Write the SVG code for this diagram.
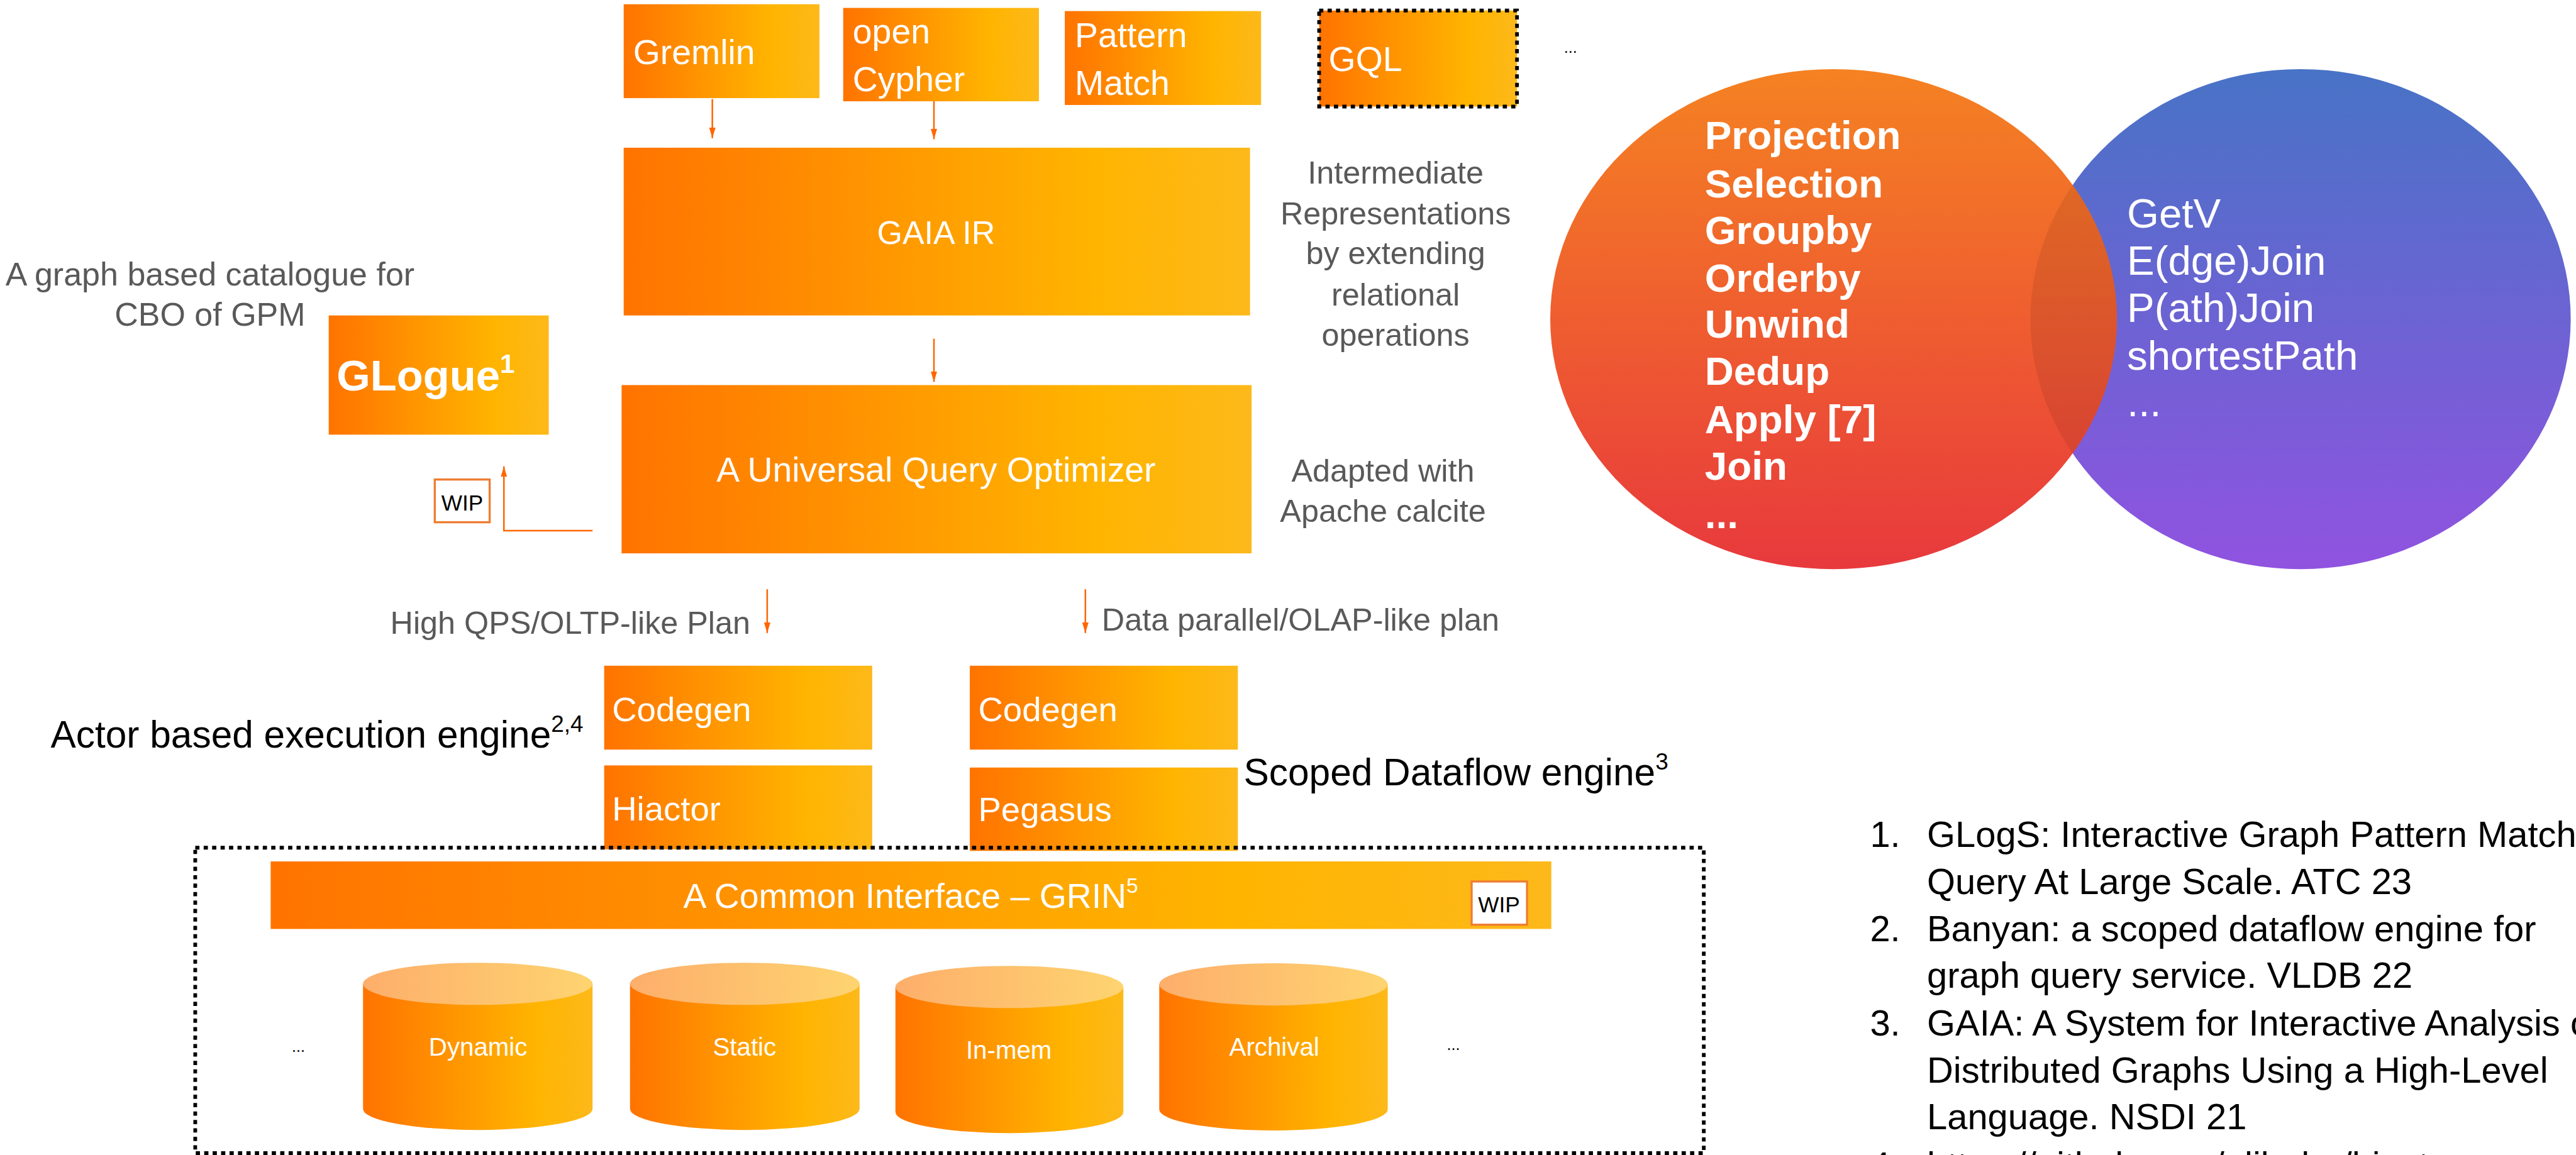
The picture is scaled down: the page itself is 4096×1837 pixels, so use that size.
<svg xmlns="http://www.w3.org/2000/svg" width="4096" height="1837" viewBox="0 0 4096 1837">
<defs>
<linearGradient id="og" x1="0" y1="0" x2="1" y2="0">
<stop offset="0" stop-color="#FF7300"/><stop offset="0.75" stop-color="#FFB400"/><stop offset="1" stop-color="#FDB91A"/>
</linearGradient>
<linearGradient id="ct" x1="0" y1="0" x2="1" y2="0">
<stop offset="0" stop-color="#FDAE6B"/><stop offset="1" stop-color="#FED470"/>
</linearGradient>
<linearGradient id="vl" x1="0" y1="0" x2="0" y2="1">
<stop offset="0" stop-color="#F58222"/><stop offset="1" stop-color="#E8393D"/>
</linearGradient>
<linearGradient id="vr" x1="0" y1="0" x2="0" y2="1">
<stop offset="0" stop-color="#4873C6"/><stop offset="1" stop-color="#9053E0"/>
</linearGradient>
<clipPath id="clipL"><ellipse cx="3475" cy="605" rx="537" ry="474"/></clipPath>
<marker id="ah" viewBox="0 0 20 12" refX="20" refY="6" markerWidth="20" markerHeight="12" markerUnits="userSpaceOnUse" orient="auto">
<path d="M0,0 L20,6 L0,12 Z" fill="#FF6600"/>
</marker>
</defs>
<style>
.box{fill:url(#og)}
.cyl{fill:url(#og)}
.cyt{fill:url(#ct)}
.f{font-family:"Liberation Sans",Arial,sans-serif}
.wt{fill:#ffffff}
.gt{fill:#595959}
.bk{fill:#000000}
.conn{stroke:#FF6600;stroke-width:3;fill:none}
.wip{fill:#ffffff;stroke:#ED7D31;stroke-width:4}
.dash{fill:none;stroke:#000;stroke-width:7;stroke-dasharray:8 8}
</style>
<g transform="scale(0.839)">
<rect x="0" y="0" width="4881" height="2189" fill="#ffffff"/>

<g id="gremlin"><rect class="box" x="1182" y="8" width="371" height="178"/>
<text class="f wt" x="1200" y="122" font-size="66">Gremlin</text></g>
<g id="opencypher"><rect class="box" x="1598" y="15" width="371" height="177"/>
<text class="f wt" x="1616" y="82" font-size="66">open</text>
<text class="f wt" x="1616" y="173" font-size="66">Cypher</text></g>
<g id="patternmatch"><rect class="box" x="2018" y="21" width="372" height="178"/>
<text class="f wt" x="2037" y="89" font-size="66">Pattern</text>
<text class="f wt" x="2037" y="180" font-size="66">Match</text></g>
<g id="gql"><rect class="box" x="2500" y="20" width="375" height="182"/>
<rect class="dash" x="2500" y="20" width="375" height="182"/>
<text class="f wt" x="2518" y="135" font-size="66">GQL</text></g>
<text class="f bk" x="2964" y="100" font-size="30">...</text>

<g id="gaiair"><rect class="box" x="1182" y="280" width="1187" height="318"/>
<text class="f wt" x="1774" y="462" font-size="62" text-anchor="middle">GAIA IR</text></g>
<g id="ir-note"><text class="f gt" font-size="60" text-anchor="middle">
<tspan x="2645" y="348">Intermediate</tspan><tspan x="2645" y="425">Representations</tspan><tspan x="2645" y="501">by extending</tspan><tspan x="2645" y="579">relational</tspan><tspan x="2645" y="655">operations</tspan></text></g>

<g id="optimizer"><rect class="box" x="1178" y="730" width="1194" height="319"/>
<text class="f wt" x="1774" y="913" font-size="66" text-anchor="middle">A Universal Query Optimizer</text></g>
<g id="opt-note"><text class="f gt" font-size="60" text-anchor="middle"><tspan x="2621" y="913">Adapted with</tspan><tspan x="2621" y="989">Apache calcite</tspan></text></g>

<g id="glogue-note"><text class="f gt" font-size="62" text-anchor="middle"><tspan x="398" y="541">A graph based catalogue for</tspan><tspan x="398" y="617">CBO of GPM</tspan></text></g>
<g id="glogue"><rect class="box" x="623" y="598" width="417" height="226"/>
<text class="f wt" x="638" y="740" font-size="82" font-weight="bold">GLogue<tspan font-size="50" dy="-33">1</tspan></text></g>
<g id="wip1"><rect class="wip" x="824" y="909" width="104" height="81"/>
<text class="f bk" x="876" y="968" font-size="42" text-anchor="middle">WIP</text></g>

<text class="f gt" x="1422" y="1202" font-size="60" text-anchor="end">High QPS/OLTP-like Plan</text>
<text class="f gt" x="2088" y="1196" font-size="60">Data parallel/OLAP-like plan</text>

<text class="f bk" x="96" y="1417" font-size="72">Actor based execution engine<tspan font-size="44" dy="-30">2,4</tspan></text>
<text class="f bk" x="2357" y="1489" font-size="72">Scoped Dataflow engine<tspan font-size="44" dy="-30">3</tspan></text>

<g id="codegen1"><rect class="box" x="1145" y="1262" width="508" height="159"/>
<text class="f wt" x="1160" y="1367" font-size="65">Codegen</text></g>
<g id="codegen2"><rect class="box" x="1838" y="1262" width="508" height="159"/>
<text class="f wt" x="1854" y="1367" font-size="65">Codegen</text></g>
<g id="hiactor"><rect class="box" x="1145" y="1451" width="508" height="159"/>
<text class="f wt" x="1160" y="1555" font-size="65">Hiactor</text></g>
<g id="pegasus"><rect class="box" x="1838" y="1455" width="508" height="158"/>
<text class="f wt" x="1854" y="1557" font-size="65">Pegasus</text></g>

<g id="grin"><rect class="box" x="513" y="1633" width="2427" height="128"/>
<text class="f wt" x="1726" y="1721" font-size="66" text-anchor="middle">A Common Interface – GRIN<tspan font-size="40" dy="-28">5</tspan></text>
<rect class="wip" x="2789" y="1671" width="105" height="82"/>
<text class="f bk" x="2841" y="1729" font-size="42" text-anchor="middle">WIP</text></g>

<g id="dynamic"><path class="cyl" d="M688,1865 V2102 A217.5,40 0 0 0 1123,2102 V1865 Z"/><ellipse class="cyt" cx="905.5" cy="1865" rx="217.5" ry="40"/>
<text class="f wt" x="906" y="2001" font-size="48" text-anchor="middle">Dynamic</text></g>
<g id="static"><path class="cyl" d="M1194,1865 V2102 A217.5,40 0 0 0 1629,2102 V1865 Z"/><ellipse class="cyt" cx="1411.5" cy="1865" rx="217.5" ry="40"/>
<text class="f wt" x="1411" y="2001" font-size="48" text-anchor="middle">Static</text></g>
<g id="inmem"><path class="cyl" d="M1697,1871 V2108 A216,40 0 0 0 2129,2108 V1871 Z"/><ellipse class="cyt" cx="1913" cy="1871" rx="216" ry="40"/>
<text class="f wt" x="1912" y="2007" font-size="48" text-anchor="middle">In-mem</text></g>
<g id="archival"><path class="cyl" d="M2197,1866 V2103 A216.5,40 0 0 0 2630,2103 V1866 Z"/><ellipse class="cyt" cx="2413.5" cy="1866" rx="216.5" ry="40"/>
<text class="f wt" x="2415" y="2001" font-size="48" text-anchor="middle">Archival</text></g>
<text class="f bk" x="553" y="1994" font-size="30">...</text>
<text class="f bk" x="2742" y="1990" font-size="30">...</text>

<rect id="storage-frame" class="dash" x="370" y="1607" width="2859" height="579"/>

<g id="venn">
<ellipse cx="4360" cy="605" rx="512" ry="474" fill="url(#vr)"/>
<ellipse cx="3475" cy="605" rx="537" ry="474" fill="url(#vl)"/>
<ellipse cx="4360" cy="605" rx="512" ry="474" fill="#000" fill-opacity="0.08" clip-path="url(#clipL)"/>
<text class="f wt" font-size="76" font-weight="bold">
<tspan x="3231" y="283">Projection</tspan><tspan x="3231" y="374">Selection</tspan><tspan x="3231" y="462">Groupby</tspan><tspan x="3231" y="553">Orderby</tspan><tspan x="3231" y="640">Unwind</tspan><tspan x="3231" y="730">Dedup</tspan><tspan x="3231" y="821">Apply [7]</tspan><tspan x="3231" y="909">Join</tspan><tspan x="3231" y="1001">...</tspan></text>
<text class="f wt" font-size="78">
<tspan x="4031" y="432">GetV</tspan><tspan x="4031" y="521">E(dge)Join</tspan><tspan x="4031" y="610">P(ath)Join</tspan><tspan x="4031" y="701">shortestPath</tspan><tspan x="4031" y="789">...</tspan></text>
</g>

<g id="references"><text class="f bk" font-size="69">
<tspan x="3544" y="1605">1.</tspan><tspan x="3652" y="1605">GLogS: Interactive Graph Pattern Matching</tspan>
<tspan x="3652" y="1695">Query At Large Scale. ATC 23</tspan>
<tspan x="3544" y="1784">2.</tspan><tspan x="3652" y="1784">Banyan: a scoped dataflow engine for</tspan>
<tspan x="3652" y="1873">graph query service. VLDB 22</tspan>
<tspan x="3544" y="1963">3.</tspan><tspan x="3652" y="1963">GAIA: A System for Interactive Analysis of</tspan>
<tspan x="3652" y="2052">Distributed Graphs Using a High-Level</tspan>
<tspan x="3652" y="2141">Language. NSDI 21</tspan>
<tspan x="3544" y="2232">4.</tspan><tspan x="3652" y="2232">https://github.com/alibaba/hiactor</tspan>
</text></g>

<g id="connectors">
<line class="conn" x1="1350" y1="188" x2="1350" y2="262" marker-end="url(#ah)"/>
<line class="conn" x1="1770" y1="192" x2="1770" y2="264" marker-end="url(#ah)"/>
<line class="conn" x1="1770" y1="642" x2="1770" y2="724" marker-end="url(#ah)"/>
<polyline class="conn" points="1123,1006 955,1006 955,884" marker-end="url(#ah)"/>
<line class="conn" x1="1454" y1="1117" x2="1454" y2="1200" marker-end="url(#ah)"/>
<line class="conn" x1="2057" y1="1117" x2="2057" y2="1200" marker-end="url(#ah)"/>
</g>
</g>
</svg>
